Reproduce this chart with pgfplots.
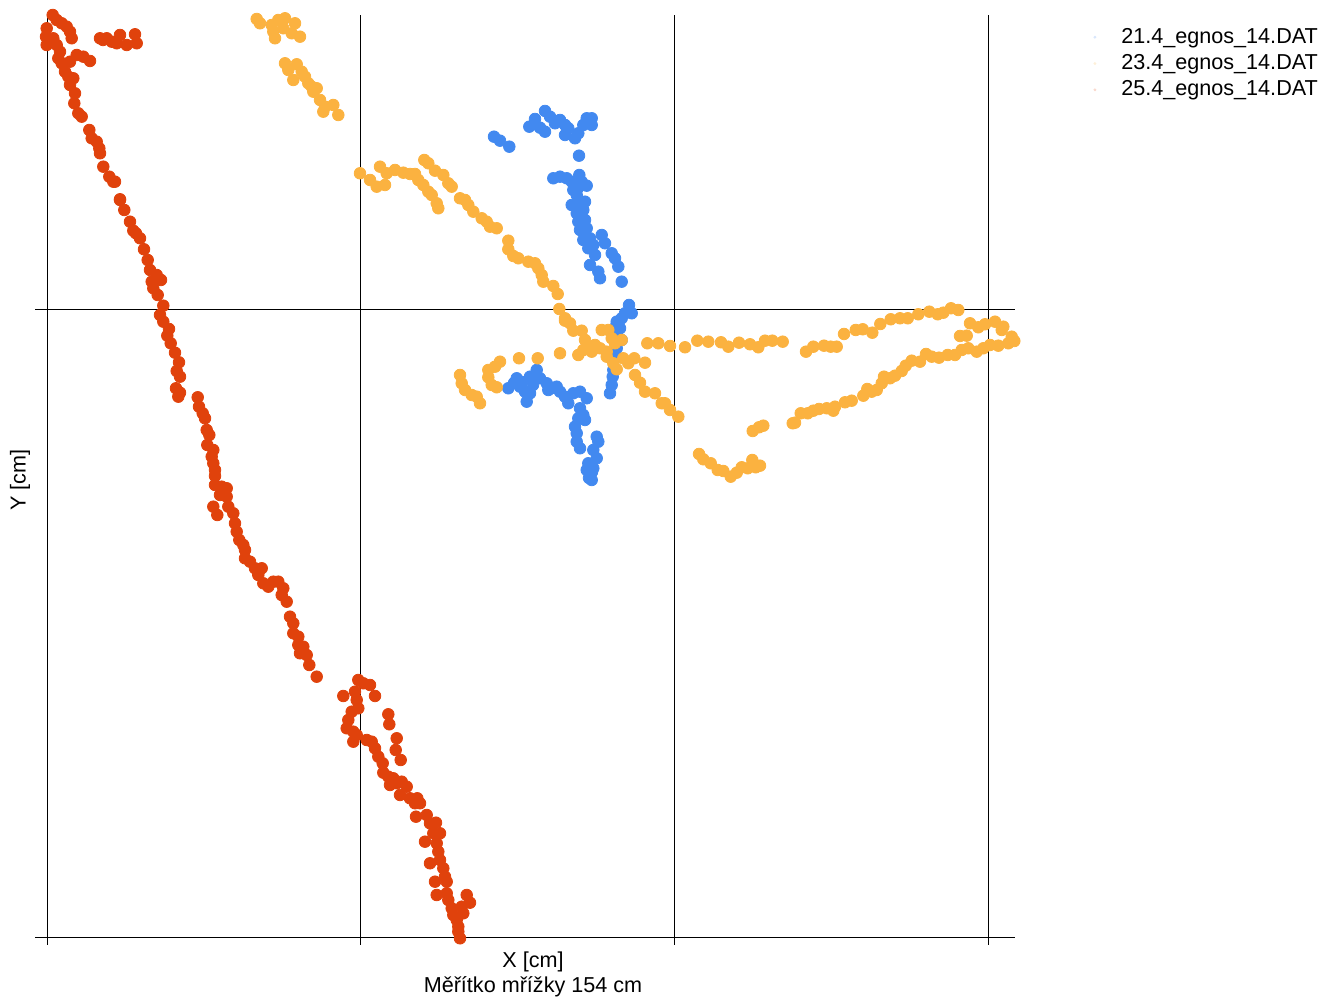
\documentclass[border=0pt]{standalone}
\usepackage{fontspec}
\setmainfont{Liberation Sans}
\usepackage{pgfplots}
\pgfplotsset{compat=1.18}
\definecolor{cblue}{RGB}{66,137,240}
\definecolor{cyel}{RGB}{251,178,64}
\definecolor{cred}{RGB}{224,66,12}
\begin{document}
\fontsize{10.8}{13}\selectfont
\begin{tikzpicture}
\useasboundingbox (0,0) rectangle (661pt,499.5pt);
\begin{axis}[
  at={(17.5pt,27pt)}, anchor=south west,
  scale only axis, width=490pt, height=465pt,
  xmin=35, xmax=1015, ymin=-945, ymax=-15,
  clip=false,
  axis line style={draw=none},
  major tick length=0pt,
  xtick={47,360,674,988}, ytick={-938,-310},
  xticklabels={}, yticklabels={},
  grid=major,
  grid style={black, line width=0.5pt, solid},
  xlabel={X [cm]\\Měřítko mřížky 154 cm},
  xlabel style={at={(axis description cs:0.5,0)}, anchor=north, align=center, xshift=4pt, yshift=0.5pt, font=\fontsize{10.8}{12.7}\selectfont},
  ylabel={Y [cm]},
  ylabel style={at={(axis description cs:0,0.5)}, anchor=center, yshift=7.5pt, font=\fontsize{10.8}{13}\selectfont},
  legend style={draw=none, fill=none, at={(1.0736,0.995)}, anchor=north west, font=\fontsize{10.8}{13}\selectfont, row sep=0pt},
  legend cell align=left,
]
\addplot[only marks, mark=*, mark size=2.9pt, mark options={draw=cblue, fill=cblue}, legend image code/.code={\fill[cblue!20] (0.35cm,0pt) circle (0.5pt); \path (0.35cm,0pt) ++(11pt,0pt);}] coordinates {
(494,-136.7)(500,-140.7)(509.3,-146.7)(529.3,-126.7)(535,-119)(540,-127.7)(545,-111)(545,-131.7)(550,-116.7)(555,-123.3)(560,-120)(565,-125)(568.3,-128.3)(565,-135)(575,-138.3)(578.3,-133.3)(583.3,-125)(586.7,-118.3)(591.7,-118.3)(591.7,-125)(579,-155.7)
(553.3,-178.3)(560,-176.7)(566.7,-178.3)(571.7,-181.7)(579.3,-175)(581.7,-181.7)(586.7,-185.7)(573.3,-190)(576.7,-195)(578,-188)(571.7,-205)(578.3,-201.7)(585,-201.7)(580,-205)(576.7,-213.3)(583.3,-210)(581,-215)(578.3,-221.7)(585,-220)(582,-225)(580,-230)(586.7,-228.3)(584,-233)(583.3,-240)(590,-238.3)(588.3,-248.3)(593.3,-245)(601.7,-235)(605,-243.3)(611.7,-253.3)(615,-258.3)(618.3,-266.7)(590,-265)(595,-255)(598.3,-271.7)(600,-278.3)(621.7,-281.7)
(629,-305)(631.7,-313.3)(625,-313.3)(621.7,-318.3)(616.7,-321.7)(620,-328.3)(615.7,-326.7)(616.7,-333.3)(621.7,-340)(616.7,-348.3)(615,-355)(613.3,-360)(613.3,-370)(612.7,-376.7)(611.7,-385)(610,-393.3)
(508.3,-388.3)(514,-383)(516.7,-378.3)(520,-386.7)(522,-382)(525,-391.7)(526.7,-401.7)(530,-393.3)(533,-385)(530,-376.7)(536.7,-370)(540,-378.3)(546.7,-383.3)(548.3,-390)(552,-388)(556.7,-386.7)(560,-391.7)(565,-396.7)(568.3,-403.3)(573.3,-393.3)(580,-391.7)(586.7,-398.3)(580,-408.3)(583.3,-415)(578.3,-418.3)(585,-420)(575,-426.7)(576.7,-433.3)(576.7,-441.7)(580,-448.3)(596.7,-436.7)(598.3,-441.7)(593.3,-450)(596.7,-458.3)(588.3,-463.3)(590,-466)(586.7,-470)(592,-472)(590,-475)(589,-478)(591.7,-480)(593.3,-468.3)
};
\addlegendentry{21.4\_egnos\_14.DAT}
\addplot[only marks, mark=*, mark size=2.9pt, mark options={draw=cyel, fill=cyel}, legend image code/.code={\fill[cyel!20] (0.35cm,0pt) circle (0.5pt); \path (0.35cm,0pt) ++(11pt,0pt);}] coordinates {
(256.7,-19)(260,-23.3)(271.7,-25)(278.3,-20)(285,-18.3)(295,-23.3)(273.3,-31.7)(275,-38.3)(283.3,-28.3)(291.7,-33.3)(300,-36.7)
(285,-63.3)(288.3,-70)(296.7,-64.3)(301.7,-71.7)(293.3,-80)(305,-76.7)(308.3,-83.3)(311.7,-86.7)(313.3,-91.7)(316.7,-88.3)(320,-100)(325,-106.7)(333.3,-105)(338.3,-115)(323.3,-111.7)
(360,-173.3)(370,-180)(376.7,-186.7)(385,-185)(380,-166.7)(386.7,-173.3)(395,-170)(403.3,-172.7)(410,-174)(415,-174)(418.3,-180)(423.3,-185)(428.3,-191.7)(431.7,-195)(436.7,-203.3)(438.3,-208.3)
(424.3,-160)(428.3,-163.3)(435,-170.7)(443.3,-175)(448.3,-183.3)(451.7,-186.7)(460,-198.3)(465,-200)(468.3,-205)(473.3,-211.7)(481.7,-218.3)(486.7,-221.7)(490,-226.7)(496.7,-228.3)
(508.3,-240.7)(508.3,-249.3)(513.3,-256)(518.3,-258.3)(528.3,-261.7)(535,-263.3)(538.3,-268.3)(541.7,-275)(543.3,-281.7)(553.3,-286)(557.7,-294)(559.3,-309)(565,-318.3)
(565,-320.7)(570,-323.3)(573.3,-330.7)(581.7,-330.7)(585,-340)(588.3,-346.7)(583.3,-350)(578.3,-355)(591.7,-351.7)(595,-345)(600,-348.3)(606.7,-351.7)(601.7,-330)(608.3,-330)(611.7,-338.3)(615,-343.3)(621.7,-340)(606.7,-356.7)(613.3,-363.3)(616.7,-369.3)(623.3,-358.3)(628.3,-363.3)(634.3,-358.3)(645,-362.7)
(635,-375)(640,-382.7)(645,-391.7)(655,-393.3)(661.7,-403.3)(670,-410)(678.3,-416.7)(665,-403.3)
(647.3,-343.3)(658.3,-343.3)(670,-346)(685,-347.3)(697.3,-340.7)(708.3,-341.7)(721,-342.3)(728.3,-346.7)(739,-342.7)(750,-344.3)(758.3,-347.3)(765,-340.7)(772.3,-340.7)(782.7,-341.7)
(806,-351.7)(813.3,-346.7)(824,-345.7)(830.7,-346.7)(836.7,-346.7)(844,-334)(855.7,-330)(862.7,-329.3)(872.3,-332.7)(880.3,-324)(890.7,-319.3)(900,-318.3)(907.7,-318.3)(918.3,-314.3)(929.3,-311.7)(937.7,-314.3)(943.3,-312.7)(951,-308.3)(958.3,-310)
(970,-323.3)(978.3,-327.3)(985,-324.3)(995,-321.7)(1003.3,-326.7)(1001.7,-330)(960,-336)(966.7,-335.7)(1011.7,-336.7)(1014.3,-341)
(1008.3,-343.3)(998.3,-345.7)(990,-345)(983.3,-348.3)(976.7,-351.7)(968.3,-348.3)(961.7,-350)(955,-355)(947.7,-355)(939,-357.7)(931.7,-356.7)(926,-354)(920,-361.7)(911.7,-360.7)(905.7,-365.7)(901.7,-371)(895,-375.7)(890,-378.3)(884,-376.7)(881.7,-383.3)(876.7,-390)(871.7,-391.7)(867.3,-389)(863.3,-395.7)(851.7,-400.7)(845,-402.3)(833.3,-410.7)(835,-406.7)(826.7,-408.3)(819,-409)(813.3,-410.7)(807.7,-413.3)(800.7,-413.3)(795,-422.7)(792.7,-423.3)
(763.3,-425.7)(759,-427.3)(752.7,-431)
(699,-454)(703.3,-459.3)(710.7,-463.3)(717.7,-470)(723.3,-471)(730.7,-476.7)(736.7,-472.7)(741.7,-467.3)(747.7,-468.3)(752.3,-460)(760,-465.7)(755.7,-467.3)
(560,-353.3)(537.7,-358.3)(519,-358.3)(500,-361.7)(495,-366.7)(488.3,-370)(488.3,-377.3)(491.7,-385)(496.7,-387.3)
(460,-375)(461.7,-383.3)(465,-390)(471.7,-395)(476.7,-396.7)(480,-403.3)
};
\addlegendentry{23.4\_egnos\_14.DAT}
\addplot[only marks, mark=*, mark size=2.9pt, mark options={draw=cred, fill=cred}, legend image code/.code={\fill[cred!20] (0.35cm,0pt) circle (0.5pt); \path (0.35cm,0pt) ++(11pt,0pt);}] coordinates {
(52.7,-15)(56.7,-20)(61.7,-23.3)(66.7,-26.7)(70,-31.7)(71.7,-38.3)(46.7,-28.3)(46,-36.7)(46.7,-45)(53.3,-38.3)(56.7,-45)(60,-51.7)(58.3,-58.3)(61.7,-63.3)(70,-61.7)(76.7,-55)(83.3,-56.7)(90,-61)
(65,-71.7)(68.3,-76.7)(73.3,-78.3)(70,-85)(75,-93.3)(74.3,-103.3)(78.3,-113.3)(81.7,-116.7)(89.3,-130)(91.7,-138.3)(96.7,-141.7)(99.3,-148.3)(100,-153.3)(103.3,-166.7)(109.3,-176.7)(113.3,-181.7)(115,-181.7)(120,-199.3)
(100,-38.3)(103,-40)(106.7,-38.3)(111.7,-41.7)(116.7,-43.3)(120,-35)(126.7,-45)(135,-34.3)(136.7,-43.3)
(120,-200)(124.3,-210)(130,-221.7)(133.3,-230.7)(136,-233.3)(140,-238.3)(144,-249.3)(147.7,-260)(150,-270)(156.7,-275)(161,-280)(151.7,-281.7)(153.3,-288.3)(157.7,-295)(163.3,-305.7)(160,-315)(163.3,-321.7)(169,-329)(167.3,-335.7)(170.7,-343.3)(175,-352.7)(179,-362.3)(176.7,-371)(180,-376.7)(176,-388.3)(180,-392.7)(178.3,-396.7)
(197.7,-397.3)(199,-406.7)(202.7,-413.3)(205,-418.3)(206.7,-430)(209.3,-435)(207.3,-445)(213.3,-450)(211.7,-456.7)(213.3,-463.3)(215,-470)(215,-476)(215,-485)(221.7,-486.7)(226.7,-488.3)(220,-495)(226.7,-496.7)(213.3,-506.7)(217.3,-515)(228.3,-506.7)(233.3,-513.3)(235,-523.3)(236.7,-531.7)(239.3,-540)(243.3,-545)(245,-550)(245,-558.3)(250,-561.7)(255,-568.3)(261.7,-568.3)(258.3,-575)(263.3,-583.3)(268.3,-586.7)(273.3,-581.7)(278.3,-581.7)(283.3,-588.3)(281.7,-595)(286.7,-601.7)
(290,-616.7)(293.3,-623.3)(293.3,-633.3)(298.3,-636.7)(298.3,-645)(303.3,-646.7)(300,-653.3)(306.7,-655)(309.3,-665)(316.7,-676.7)
(358.3,-680)(363.3,-683.3)(370,-685)(375,-696)(343.3,-696)(355,-691.7)(356.7,-700)(358.3,-708.3)(351.7,-711.7)(348.3,-720)(346.7,-728.3)(353.3,-731.7)(353.3,-741.7)(356.7,-735)
(388.3,-714.3)(389.3,-724.3)(396.7,-738.3)(395.7,-750)(400.7,-760)
(366.7,-740)(371.7,-741.7)(375,-748.3)(378.3,-756.7)(382.7,-763.3)(383.3,-772.7)(388.3,-776.7)(393.3,-778.3)(390,-785)(396.7,-783.3)(401.7,-781.7)(406.7,-786.7)(400,-795)(410,-798.3)(417.3,-798.3)(415,-803.3)(420,-803.3)(416,-816.7)(426.7,-815)(430,-823.3)(436,-822.7)(433.3,-833.3)(440,-833.3)(425,-841.7)(436.7,-843.3)(438.3,-851.7)(430,-863.3)(440,-860)(443.3,-868.3)(445,-876.7)(435,-881.7)(446.7,-881.7)(436.7,-895)(446.7,-893.3)(448.3,-900)(451.7,-908.3)(453.3,-915)(456.7,-920)(458.3,-926.7)(458.3,-931.7)(460,-938.3)(461.7,-906.7)(466.7,-895)(470,-902.7)(463.3,-913.3)
};
\addlegendentry{25.4\_egnos\_14.DAT}
\end{axis}
\end{tikzpicture}
\end{document}
